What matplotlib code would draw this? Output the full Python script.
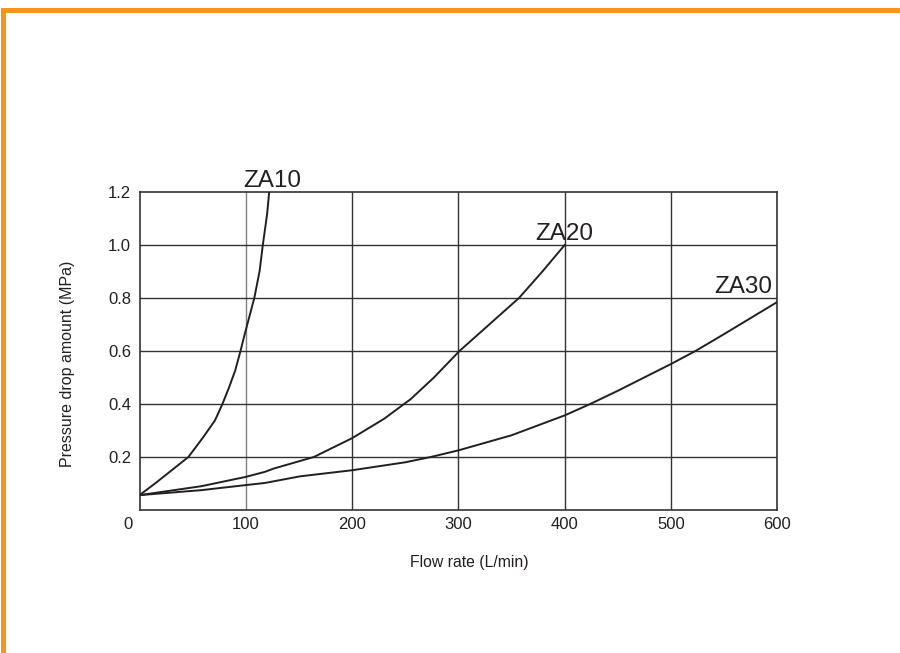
import matplotlib.pyplot as plt
from matplotlib.patches import Rectangle
import matplotlib.transforms as mtransforms

plt.rcParams['font.family'] = ['Liberation Sans', 'DejaVu Sans']

# Flow rate (L/min) vs pressure drop (MPa)
za10_flow = [0, 14.6, 30.3, 46, 60, 71, 78, 84, 90, 95, 99, 108, 113, 116, 120, 122]
za10_drop = [0.056, 0.1, 0.15, 0.2, 0.275, 0.338, 0.4, 0.46, 0.526, 0.6, 0.664,
             0.8, 0.902, 1.0, 1.115, 1.2]

za20_flow = [0, 58.5, 100, 118, 126, 164, 200, 230, 255, 277, 301, 329, 357, 379, 400]
za20_drop = [0.056, 0.09, 0.125, 0.144, 0.156, 0.2, 0.271, 0.344, 0.418, 0.5, 0.6,
             0.7, 0.8, 0.9, 1.0]

za30_flow = [0, 58.5, 100, 118, 151, 200, 250, 274, 300, 350, 400, 424, 450, 500,
             523, 550, 600]
za30_drop = [0.056, 0.075, 0.094, 0.102, 0.127, 0.15, 0.18, 0.2, 0.225, 0.282,
             0.357, 0.4, 0.45, 0.551, 0.6, 0.664, 0.785]

x_ticks = [0, 100, 200, 300, 400, 500, 600]
y_ticks = [0.2, 0.4, 0.6, 0.8, 1.0, 1.2]

series = [
    ('ZA10', za10_flow, za10_drop, (124.8, 1.218)),
    ('ZA20', za20_flow, za20_drop, (399.2, 1.018)),
    ('ZA30', za30_flow, za30_drop, (568.3, 0.82)),
]

fig = plt.figure(figsize=(9, 6.53), dpi=100)
ax = fig.add_axes([0.155, 0.219, 0.7087, 0.487])

line_col = '#231f20'
grid_col = '#333333'

for name, fx, fy, (lx, ly) in series:
    ax.plot(fx, fy, color=line_col, linewidth=1.4, solid_joinstyle='round', zorder=3)
    ax.text(lx, ly, name, fontsize=17.5, ha='center', va='baseline',
            color='#231f20', clip_on=False)

ax.set_xlim(0, 600)
ax.set_ylim(0, 1.2)
ax.set_xticks(x_ticks)
ax.set_yticks(y_ticks)
ax.set_yticklabels([f'{v:.1f}' for v in y_ticks])
ax.tick_params(length=0, labelsize=12, colors='#231f20')
ax.tick_params(axis='x', pad=5)
ax.tick_params(axis='y', pad=6)

# grid lines (the one at 100 is lighter in the reference)
for xv in x_ticks[1:-1]:
    ax.axvline(xv, color='#808080' if xv == 100 else grid_col, linewidth=1.0, zorder=1)
for yv in y_ticks[:-1]:
    ax.axhline(yv, color=grid_col, linewidth=1.0, zorder=1)

for sp in ax.spines.values():
    sp.set_color(grid_col)
    sp.set_linewidth(1.2)

# first x tick label sits a bit left of the axis in the reference
first = ax.get_xticklabels()[0]
first.set_transform(first.get_transform() +
                    mtransforms.ScaledTranslation(-11 / 100, 0, fig.dpi_scale_trans))

ax.set_xlabel('Flow rate (L/min)', fontsize=11.3, color='#231f20')
ax.xaxis.set_label_coords(0.517, -0.1415)
ax.set_ylabel('Pressure drop amount (MPa)', fontsize=11.5, color='#231f20')
ax.yaxis.set_label_coords(-0.101, 0.46)

# orange frame on top and left edges
orange = '#f7941d'
fig.add_artist(Rectangle((1 / 900, 1 - 13 / 653), 1, 5 / 653,
                         transform=fig.transFigure, color=orange, lw=0))
fig.add_artist(Rectangle((1 / 900, 0), 5 / 900, 1 - 8 / 653,
                         transform=fig.transFigure, color=orange, lw=0))

fig.savefig('out.png', dpi=100, facecolor='white')
